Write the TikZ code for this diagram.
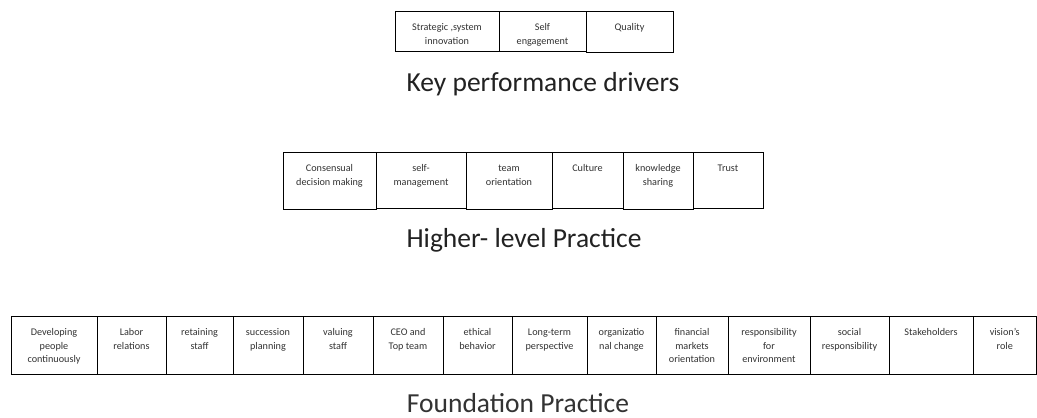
\documentclass[tikz,border=0pt]{standalone}
\usepackage{fontspec}
\setmainfont{Carlito}
\definecolor{txt}{HTML}{333333}
\definecolor{ttl}{HTML}{222222}
\tikzset{
  cellbox/.style={draw=black, line width=0.8pt, inner sep=0pt, outer sep=0pt, anchor=north west},
  celltext/.style={inner sep=0pt, anchor=base, text=txt, font=\fontsize{10.2}{13.5}\selectfont},
  title/.style={inner sep=0pt, anchor=base, text=ttl, font=\fontsize{27.5}{30}\selectfont},
}
% \cell{name}{left}{right}{top}{bottom}{text}
\newcommand\cell[6]{%
  \pgfmathsetlengthmacro\cellw{(#3-#2)*1pt}%
  \pgfmathsetlengthmacro\cellh{(#5-#4)*1pt}%
  \node[cellbox, minimum width=\cellw, minimum height=\cellh] (#1) at (#2,#4) {};
  \node[celltext] (#1-t) at ([yshift=-19.5pt]#1.north)
    {\parbox[t]{\cellw}{\centering #6}};%
}
\begin{document}
\begin{tikzpicture}[x=1pt,y=-1pt]
\useasboundingbox[fill=white] (0,0) rectangle (1037,418);

% key performance drivers
\cell{k1}{395}{499}{11}{51}{Strategic ,system\\innovation}
\cell{k2}{499}{586}{11}{51}{Self\\engagement}
\cell{k3}{586}{673}{11}{52}{Quality}
\node[title] (kpd) at (543,91) {Key performance drivers};

% higher-level practice
\cell{h1}{283}{376}{152}{209}{Consensual\\decision making}
\cell{h2}{376}{466}{152}{208}{self-\\management}
\cell{h3}{466}{552}{152}{209}{team\\orientation}
\cell{h4}{552}{623}{152}{208}{Culture}
\cell{h5}{623}{693}{152}{209}{knowledge\\sharing}
\cell{h6}{693}{763}{152}{208}{Trust}
\node[title] (hlp) at (524,247) {Higher- level Practice};

% foundation practice
\cell{f1}{11}{97}{316}{374}{Developing\\people\\continuously}
\cell{f2}{97}{166}{316}{374}{Labor\\relations}
\cell{f3}{166}{233}{316}{374}{retaining\\staff}
\cell{f4}{233}{303}{316}{374}{succession\\planning}
\cell{f5}{303}{373}{316}{374}{valuing\\staff}
\cell{f6}{373}{443}{316}{374}{CEO and\\Top team}
\cell{f7}{443}{512}{316}{374}{ethical\\behavior}
\cell{f8}{512}{587}{316}{374}{Long-term\\perspective}
\cell{f9}{587}{656}{316}{374}{organizatio\\nal change}
\cell{f10}{656}{728}{316}{374}{financial\\markets\\orientation}
\cell{f11}{728}{810}{316}{374}{responsibility\\for\\environment}
\cell{f12}{810}{889}{316}{374}{social\\responsibility}
\cell{f13}{889}{973}{316}{374}{Stakeholders}
\cell{f14}{973}{1036.5}{316}{374}{vision’s\\role}
\node[title, text=txt] (fp) at (518,412) {Foundation Practice};
\end{tikzpicture}
\end{document}
